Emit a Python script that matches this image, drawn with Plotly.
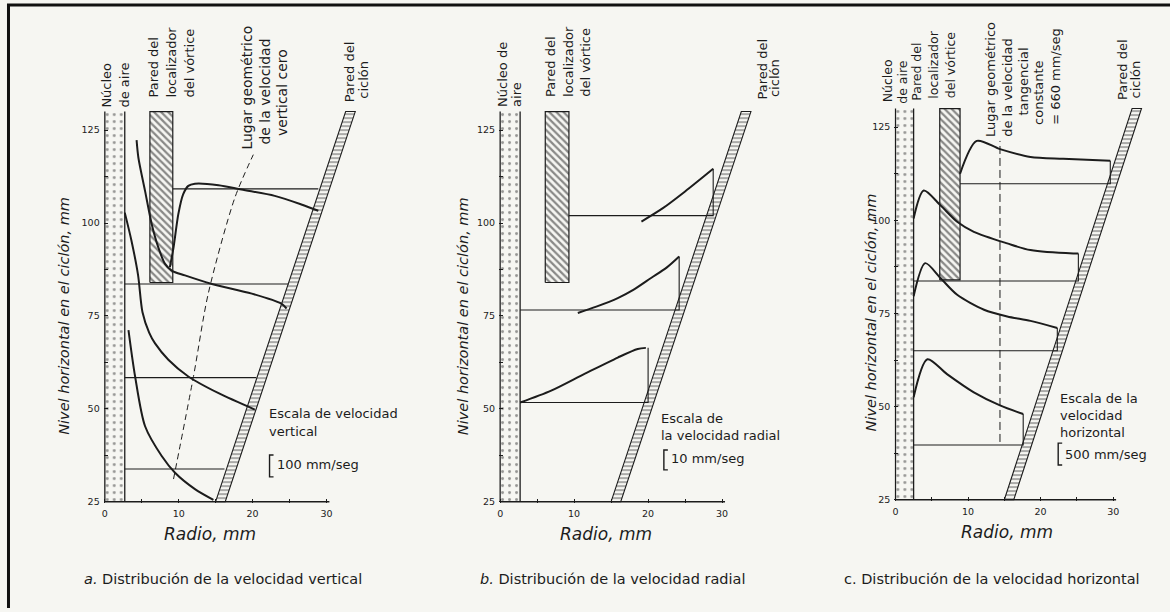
import plotly.graph_objects as go

W, H = 1170, 612
BG = '#f6f6f2'
INK = '#1c1c1c'
FONT = 'DejaVu Sans, Liberation Sans, sans-serif'

# ---------------- data (mm radius, mm level) ----------------
X_TICKS = [0, 5, 10, 15, 20, 25, 30]
X_TICKTEXT = ['0', '', '10', '', '20', '', '30']
Y_TICKS = [25, 37.5, 50, 62.5, 75, 87.5, 100, 112.5, 125]
Y_TICKTEXT = ['25', '', '50', '', '75', '', '100', '', '125']

CORE_R = [2.7, 2.7, 2.5]          # air core radius per panel
CORE_TOP = 130
VF_R = [[6.1, 9.2], [6.1, 9.3], [6.1, 8.9]]   # vortex finder wall
VF_Y = [84.0, 130]
WALL_R = [15.0, 32.6]             # cyclone wall inner edge at y=25 and y=130
WALL_Y = [25, 130]
WALL_W = 1.3

# Panel a: vertical velocity
A_LEVELS = [109.2, 83.6, 58.4, 33.8]
A_LEVEL_X0 = [9.2, 2.7, 2.7, 2.7]
A_LEVEL_X1 = [28.9, 24.9, 20.5, 16.2]
A1_R = [8.8, 9.3, 9.95, 10.6, 11.3, 12.2, 15.4, 18.5, 23.0, 26.6, 28.9]
A1_V = [88.1, 93.4, 102.4, 107.7, 110.0, 110.6, 110.2, 109.0, 107.3, 105.0, 103.3]
A2_R = [4.3, 4.55, 5.45, 6.35, 7.25, 8.15, 9.05, 10.85, 14.5, 19.9, 23.9, 24.6]
A2_V = [122.3, 117.5, 108.6, 99.7, 93.4, 89.0, 87.2, 85.9, 83.6, 81.0, 78.3, 77.0]
A3_R = [2.7, 3.6, 4.5, 5.1, 6.0, 6.8, 8.6, 11.3, 15.4, 20.3]
A3_V = [102.8, 95.3, 86.0, 76.0, 70.5, 67.6, 63.2, 58.7, 54.2, 49.8]
A4_R = [3.2, 4.1, 5.45, 7.7, 9.5, 12.2, 14.7]
A4_V = [71.2, 58.7, 45.3, 37.3, 32.8, 28.4, 25.5]
A_ZERO_R = [9.3, 12.0, 14.0, 17.6, 20.1]
A_ZERO_V = [31.1, 58.7, 81.0, 106.8, 118.4]

# Panel b: radial velocity
B_LEVELS = [102.0, 76.6, 51.7]
B_LEVEL_X0 = [9.3, 2.7, 2.7]
B_LEVEL_X1 = [28.8, 24.2, 20.0]
B_END_V = [114.6, 91.0, 66.4]
B1_R = [19.1, 22.0, 25.0, 28.8]
B1_V = [100.4, 104.0, 108.5, 114.6]
B2_R = [10.5, 13.0, 15.9, 18.0, 20.4, 22.5, 24.2]
B2_V = [75.8, 77.5, 79.8, 82.0, 85.2, 88.0, 91.0]
B3_R = [2.7, 6.9, 11.4, 15.9, 18.6, 19.7]
B3_V = [51.7, 54.9, 59.4, 63.8, 66.1, 66.4]

# Panel c: horizontal (tangential) velocity
C_LEVELS = [109.8, 83.7, 65.0, 39.7]
C_LEVEL_X0 = [8.9, 2.5, 2.5, 2.5]
C_LEVEL_X1 = [29.6, 25.2, 22.3, 17.6]
C_END_V = [116.0, 91.1, 71.1, 48.0]
C1_R = [8.9, 11.2, 14.4, 18.6, 23.1, 29.6]
C1_V = [112.5, 121.3, 119.1, 117.0, 116.5, 116.0]
C2_R = [2.5, 3.9, 6.2, 8.5, 10.8, 15.4, 18.6, 24.5, 25.2]
C2_V = [100.5, 108.0, 104.0, 99.6, 96.9, 93.8, 92.0, 91.1, 91.1]
C3_R = [2.5, 4.1, 6.2, 8.5, 12.2, 15.4, 18.6, 22.3]
C3_V = [79.6, 88.5, 84.5, 80.0, 76.0, 74.2, 73.0, 71.1]
C4_R = [2.5, 4.4, 7.1, 10.8, 14.4, 17.6]
C4_V = [52.5, 62.7, 58.7, 53.8, 50.3, 48.0]
C_CONST_R = 14.4
C_CONST_V = [40.5, 121.3]

# rotated label columns: (text, column centre x px, bottom y px, font size)
ROT_LABELS = [
    ('Núcleo', 105, 110, 13), ('de aire', 123, 110, 13),
    ('Pared del', 152, 100, 13), ('localizador', 170, 100, 13), ('del vórtice', 188, 100, 13),
    ('Lugar geométrico', 245, 153, 14), ('de la velocidad', 263, 148, 14), ('vertical cero', 280, 139, 14),
    ('Pared del', 348, 105, 13), ('ciclón', 362, 101, 13),
    ('Núcleo de', 502, 110, 13), ('aire', 516, 110, 13),
    ('Pared del', 550, 100, 13), ('localizador', 568, 100, 13), ('del vórtice', 585, 100, 13),
    ('Pared del', 762, 102, 13), ('ciclón', 774, 100, 13),
    ('Núcleo', 887, 105, 12.5), ('de aire', 902, 106, 12.5),
    ('Pared del', 916, 103, 12.5), ('localizador', 933, 101, 12.5), ('del vórtice', 950, 101, 12.5),
    ('Lugar geométrico', 990, 140, 13), ('de la velocidad', 1007, 140, 13), ('tangencial', 1023, 118, 13),
    ('constante', 1038, 128, 13), ('= 660 mm/seg', 1055, 128, 13),
    ('Pared del', 1123, 103, 13), ('ciclón', 1135, 101, 13),
]
SCALE_TEXT = [('Escala de velocidad', 265, 416), ('vertical', 265, 434), ('100 mm/seg', 273, 468),
              ('Escala de', 658, 421), ('la velocidad radial', 658, 438), ('10 mm/seg', 668, 462),
              ('Escala de la', 1058, 401), ('velocidad', 1058, 418), ('horizontal', 1058, 435),
              ('500 mm/seg', 1063, 457)]

# ---------------- layout helpers ----------------
XR = [-0.15, 35]
YR = [24.6, 132]
# pixel position of (0 mm, level 25) and scales per panel
PANEL_PX = [(103, 7.4, 505, 3.74), (499, 7.41, 505, 3.74), (895, 7.27, 503, 3.75)]


def P(x, y):
    return x / W, 1 - y / H


fig = go.Figure()


def line(ax, x, y, width=1.2, dash='solid', shape='linear'):
    fig.add_trace(go.Scatter(x=x, y=y, mode='lines', xaxis='x' + ax, yaxis='y' + ax,
                             line=dict(color=INK, width=width, dash=dash, shape=shape, smoothing=0.8),
                             hoverinfo='skip', showlegend=False))


def poly(ax, x, y, pattern, lw=0):
    fig.add_trace(go.Scatter(x=x, y=y, mode='lines', fill='toself', xaxis='x' + ax, yaxis='y' + ax,
                             line=dict(color=INK, width=lw), fillcolor=BG,
                             fillpattern=pattern, hoverinfo='skip', showlegend=False))


for i in range(3):
    ax = '' if i == 0 else str(i + 1)
    x0, pxmm, y25, pxu = PANEL_PX[i]
    xd = [(x0 + XR[0] * pxmm) / W, (x0 + XR[1] * pxmm) / W]
    yd = [1 - (y25 - (YR[0] - 25) * pxu) / H, 1 - (y25 - (YR[1] - 25) * pxu) / H]
    common = dict(showgrid=False, zeroline=False, showline=False, ticks='inside', ticklen=4,
                  tickcolor=INK, tickwidth=1, tickfont=dict(size=9.5, color=INK, family=FONT))
    fig.layout['xaxis' + ax] = dict(domain=xd, range=XR, tickvals=X_TICKS, ticktext=X_TICKTEXT,
                                    anchor='y' + ax, ticklabelstandoff=3, **common)
    fig.layout['yaxis' + ax] = dict(domain=yd, range=YR, tickvals=Y_TICKS, ticktext=Y_TICKTEXT,
                                    anchor='x' + ax, ticklabelstandoff=3, **common)
    # air core
    cr = CORE_R[i]
    poly(ax, [0, cr, cr, 0, 0], [25, 25, CORE_TOP, CORE_TOP, 25],
         dict(shape='.', fgcolor='#333', bgcolor=BG, size=7, solidity=0.14))
    line(ax, [0, 0], [25, CORE_TOP], 1.3)
    line(ax, [cr, cr], [25, CORE_TOP], 1.3)
    # vortex finder wall
    a, b = VF_R[i]
    poly(ax, [a, b, b, a, a], [VF_Y[0], VF_Y[0], VF_Y[1], VF_Y[1], VF_Y[0]],
         dict(shape='\\', fgcolor=INK, bgcolor=BG, size=5, solidity=0.45), lw=1.2)
    # cyclone wall band
    poly(ax, [WALL_R[0], WALL_R[1], WALL_R[1] + WALL_W, WALL_R[0] + WALL_W, WALL_R[0]],
         [WALL_Y[0], WALL_Y[1], WALL_Y[1], WALL_Y[0], WALL_Y[0]],
         dict(shape='-', fgcolor=INK, bgcolor=BG, size=4, solidity=0.35), lw=1.1)
    # x axis line
    line(ax, [0, 30.4], [25, 25], 1.5)

# panel a
for lv, r0, r1 in zip(A_LEVELS, A_LEVEL_X0, A_LEVEL_X1):
    line('', [r0, r1], [lv, lv], 1.1)
for r, v in [(A1_R, A1_V), (A2_R, A2_V), (A3_R, A3_V), (A4_R, A4_V)]:
    line('', r, v, 2.0, shape='spline')
line('', A_ZERO_R, A_ZERO_V, 1.0, dash='6px,4px', shape='spline')

# panel b
for lv, r0, r1, ve in zip(B_LEVELS, B_LEVEL_X0, B_LEVEL_X1, B_END_V):
    line('2', [r0, r1, r1], [lv, lv, ve], 1.1)
for r, v in [(B1_R, B1_V), (B2_R, B2_V), (B3_R, B3_V)]:
    line('2', r, v, 2.0, shape='spline')

# panel c
for lv, r0, r1, ve in zip(C_LEVELS, C_LEVEL_X0, C_LEVEL_X1, C_END_V):
    line('3', [r0, r1, r1], [lv, lv, ve], 1.1)
for r, v in [(C1_R, C1_V), (C2_R, C2_V), (C3_R, C3_V), (C4_R, C4_V)]:
    line('3', r, v, 2.0, shape='spline')
line('3', [C_CONST_R, C_CONST_R], C_CONST_V, 1.0, dash='8px,4px')

# ---------------- text ----------------
ann = []


def text(t, x, y, size=13, angle=0, xa='center', ya='middle', align='center', italic=False):
    xx, yy = P(x, y)
    ann.append(dict(text=t, x=xx, y=yy, xref='paper', yref='paper', showarrow=False,
                    textangle=angle, xanchor=xa, yanchor=ya, align=align,
                    font=dict(size=size, color=INK, family=FONT,
                              style='italic' if italic else 'normal')))


for t, x, y, s in ROT_LABELS:
    text(t, x, y, s, -90, 'center', 'bottom', 'left')

for x, y in [(62, 318), (462, 318), (870, 315)]:
    text('Nivel horizontal en el ciclón, mm', x, y, 14.5, -90, italic=True)
for x, y in [(208, 538), (605, 538), (1007, 535)]:
    text('Radio, mm', x, y, 17, italic=True)
text('<i>a.</i> Distribución de la velocidad vertical', 221, 583, 14.5)
text('<i>b.</i> Distribución de la velocidad radial', 612, 583, 14.5)
text('c. Distribución de la velocidad horizontal', 992, 583, 14.5)

for t, x, y in SCALE_TEXT:
    text(t, x, y, 13, xa='left')

shapes = []
for x, y0, y1 in [(268, 458, 480), (663, 453, 473), (1058, 446, 468)]:
    (a, b0), (c, b1) = P(x, y0), P(x + 4, y1)
    shapes.append(dict(type='path', xref='paper', yref='paper',
                       path=f'M {c},{b0} L {a},{b0} L {a},{b1} L {c},{b1}',
                       line=dict(color=INK, width=1.4)))
# frame (top and left)
shapes.append(dict(type='line', xref='paper', yref='paper', x0=P(5, 5)[0], x1=1, y0=P(5, 5)[1], y1=P(5, 5)[1],
                   line=dict(color='#111', width=3)))
shapes.append(dict(type='line', xref='paper', yref='paper', x0=P(6.5, 0)[0], x1=P(6.5, 0)[0], y0=P(0, 4)[1], y1=0,
                   line=dict(color='#111', width=3)))

fig.update_layout(width=W, height=H, margin=dict(l=0, r=0, t=0, b=0), paper_bgcolor=BG, plot_bgcolor=BG,
                  showlegend=False, annotations=ann, shapes=shapes, font=dict(family=FONT, color=INK))
fig.write_html('out.html')
